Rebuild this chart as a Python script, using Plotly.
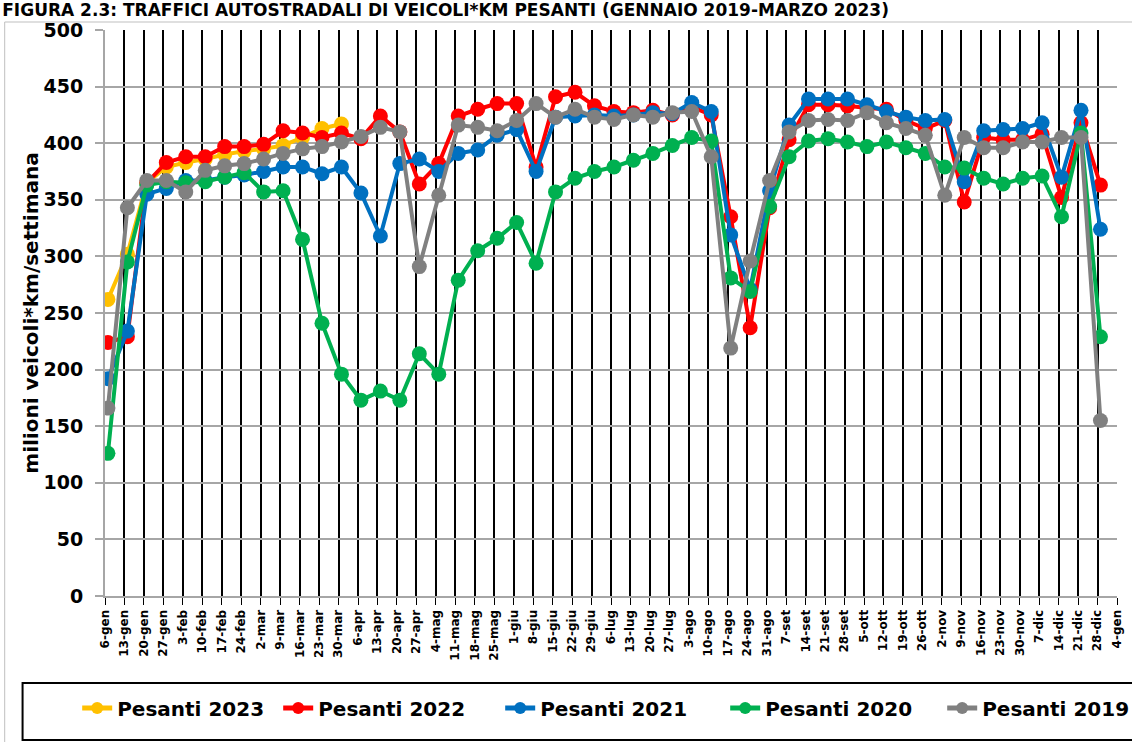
import plotly.graph_objects as go

# ---------------- data ----------------
weeks = ["6-gen", "13-gen", "20-gen", "27-gen", "3-feb", "10-feb", "17-feb", "24-feb",
         "2-mar", "9-mar", "16-mar", "23-mar", "30-mar", "6-apr", "13-apr", "20-apr",
         "27-apr", "4-mag", "11-mag", "18-mag", "25-mag", "1-giu", "8-giu", "15-giu",
         "22-giu", "29-giu", "6-lug", "13-lug", "20-lug", "27-lug", "3-ago", "10-ago",
         "17-ago", "24-ago", "31-ago", "7-set", "14-set", "21-set", "28-set", "5-ott",
         "12-ott", "19-ott", "26-ott", "2-nov", "9-nov", "16-nov", "23-nov", "30-nov",
         "7-dic", "14-dic", "21-dic", "28-dic", "4-gen"]

pesanti_2023 = [262, 302, 365, 379, 383, 386, 390, 393, 395, 398, 405, 413, 417]

pesanti_2022 = [224, 229, 365, 383, 388, 388, 397, 397, 399, 411, 409, 405, 409, 404,
                424, 410, 364, 382, 424, 430, 435, 435, 379, 441, 445, 433, 428, 427,
                429, 425, 432, 425, 335, 237, 343, 403, 434, 434, 433, 431, 430, 420,
                413, 420, 348, 405, 403, 403, 408, 352, 418, 363]

pesanti_2021 = [192, 234, 355, 360, 367, 367, 370, 372, 375, 379, 379, 373, 379, 356,
                318, 382, 386, 375, 391, 394, 407, 412, 375, 423, 424, 425, 424, 425,
                427, 426, 436, 428, 319, 271, 358, 416, 439, 439, 439, 434, 428, 423,
                420, 421, 366, 411, 412, 413, 418, 370, 429, 324]

pesanti_2020 = [126, 295, 363, 366, 365, 366, 370, 374, 357, 358, 315, 241, 196, 173,
                181, 173, 214, 196, 279, 305, 316, 330, 294, 357, 369, 375, 379, 385,
                391, 398, 405, 402, 281, 269, 344, 388, 402, 404, 401, 397, 401, 396,
                391, 379, 378, 369, 364, 369, 371, 335, 409, 229]

pesanti_2019 = [166, 343, 367, 367, 357, 376, 380, 382, 386, 391, 395, 397, 401, 406,
                414, 410, 291, 354, 416, 414, 411, 420, 435, 423, 430, 423, 421, 425,
                423, 427, 428, 388, 219, 296, 367, 410, 420, 421, 420, 427, 418, 413,
                407, 354, 405, 396, 396, 401, 401, 405, 405, 155]

series_names = ["Pesanti 2023", "Pesanti 2022", "Pesanti 2021", "Pesanti 2020", "Pesanti 2019"]
series_values = [pesanti_2023, pesanti_2022, pesanti_2021, pesanti_2020, pesanti_2019]
series_colors = ["#FFC000", "#FF0000", "#0070C0", "#00B050", "#808080"]

title_text = "FIGURA 2.3: TRAFFICI AUTOSTRADALI DI VEICOLI*KM PESANTI (GENNAIO 2019-MARZO 2023)"
y_title = "milioni veicoli*km/settimana"

# ---------------- layout geometry ----------------
W, H = 1132, 742
L, R, T, B = 105, 8, 30, 146
PW = W - L - R
PH = H - T - B


def px(x):
    return (x - L) / PW


def py(y):
    return (H - B - y) / PH


OFF = 0.15  # gridlines sit slightly left of the weekly points
FONT = "DejaVu Sans"
legend_widths = [156, 177, 180, 172, 144]  # legend entry widths (px)

fig = go.Figure()
for name, vals, col, lw in zip(series_names, series_values, series_colors, legend_widths):
    fig.add_trace(go.Scatter(
        x=list(range(len(vals))), y=vals, mode="lines+markers", name=name,
        line=dict(color=col, width=4), marker=dict(color=col, size=15),
        legendwidth=lw,
    ))

fig.update_layout(
    width=W, height=H,
    margin=dict(l=L, r=R, t=T, b=B, pad=0),
    paper_bgcolor="white", plot_bgcolor="white",
    font=dict(family=FONT, color="black"),
    title=dict(text=title_text, x=0.002, xanchor="left", xref="container",
               y=1 - 4 / H, yanchor="top", yref="container", pad=dict(t=0, b=0, l=0, r=0),
               font=dict(family=FONT, size=17, weight="bold", color="black")),
    showlegend=True,
    legend=dict(orientation="h", x=px(77), xanchor="left", y=py(708), yanchor="middle",
                font=dict(family=FONT, size=20, weight="bold", color="black"),
                bgcolor="rgba(0,0,0,0)", borderwidth=0, itemsizing="constant"),
    xaxis=dict(
        range=[-OFF, len(weeks) - 1 - OFF],
        tickmode="array",
        tickvals=[i - OFF for i in range(len(weeks))],
        ticktext=weeks,
        tickangle=-90,
        ticklabeloverflow="allow",
        tickfont=dict(family=FONT, size=12, weight="bold", color="black"),
        showgrid=True, gridcolor="black", gridwidth=2,
        ticks="outside", ticklen=7, tickcolor="black", tickwidth=1,
        showline=True, linecolor="#A6A6A6", linewidth=2,
        zeroline=False,
    ),
    yaxis=dict(
        range=[0, 500], dtick=50, tick0=0,
        tickfont=dict(family=FONT, size=19, weight="bold", color="black"),
        showgrid=True, gridcolor="#A6A6A6", gridwidth=2,
        ticks="outside", ticklen=8, tickcolor="#A6A6A6", tickwidth=2,
        ticklabelstandoff=8,
        showline=True, linecolor="#A6A6A6", linewidth=2,
        zeroline=False,
        title=dict(text=y_title, standoff=0,
                   font=dict(family=FONT, size=20, weight="bold", color="black")),
    ),
    shapes=[
        # chart-area frame
        dict(type="rect", xref="paper", yref="paper",
             x0=px(4), x1=px(W + 20), y0=py(H + 20), y1=py(22),
             line=dict(color="#BFBFBF", width=1), fillcolor="rgba(0,0,0,0)", layer="below"),
        # legend frame
        dict(type="rect", xref="paper", yref="paper",
             x0=px(22), x1=px(W + 20), y0=py(740), y1=py(683),
             line=dict(color="black", width=2), fillcolor="rgba(0,0,0,0)", layer="above"),
    ],
)

fig.write_html(
    "out.html",
    config={"displayModeBar": False},
    post_script="document.body.style.margin='0';document.body.style.overflow='hidden';",
)
